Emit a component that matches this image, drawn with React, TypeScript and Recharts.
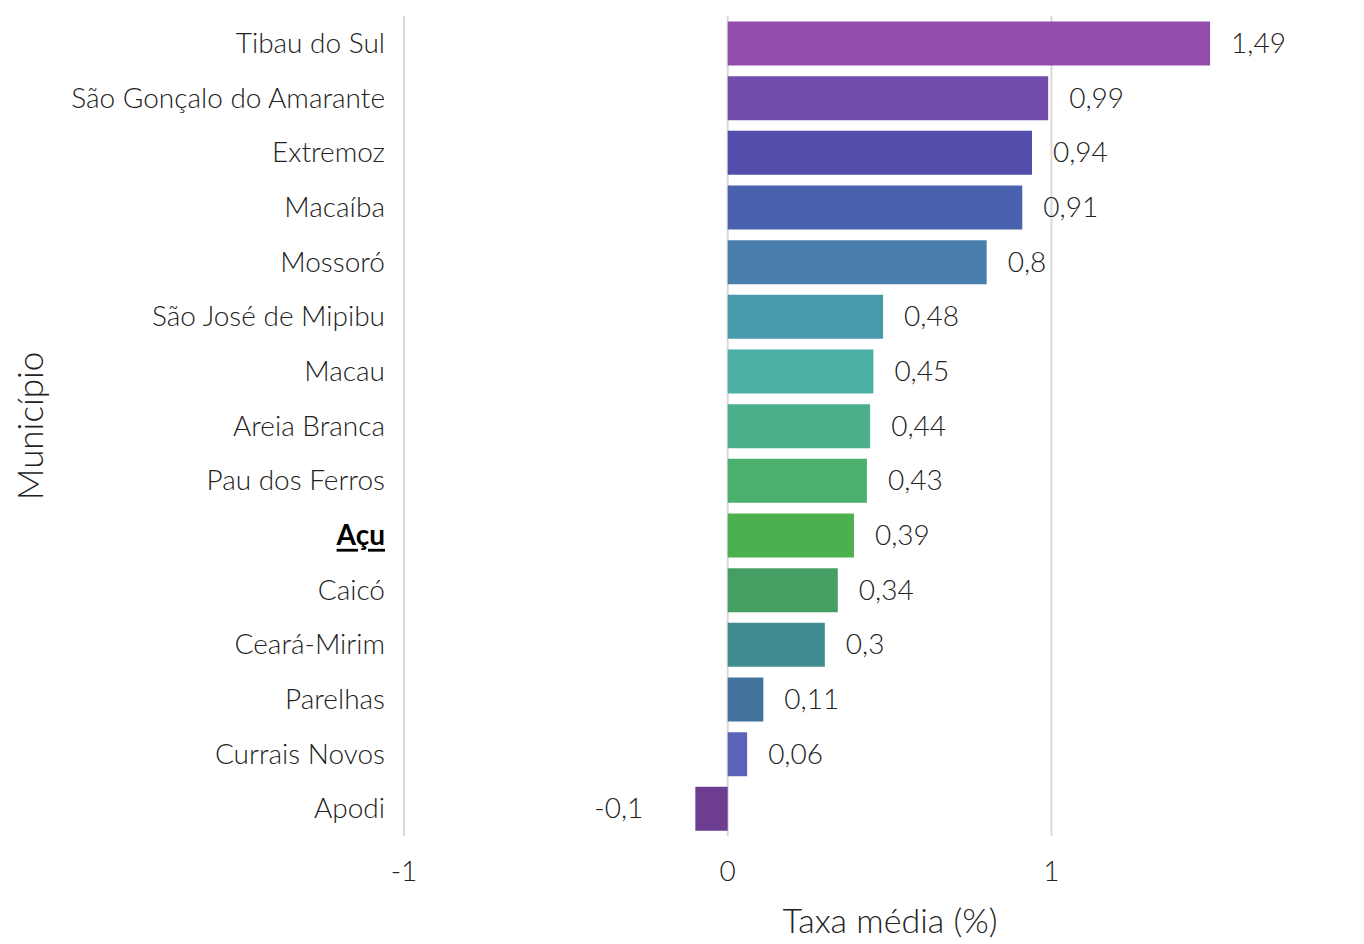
import React from 'react';
import { BarChart, Bar, XAxis, YAxis, CartesianGrid, Cell, LabelList, Label } from 'recharts';

const municipios = [
    'Tibau do Sul',
    'São Gonçalo do Amarante',
    'Extremoz',
    'Macaíba',
    'Mossoró',
    'São José de Mipibu',
    'Macau',
    'Areia Branca',
    'Pau dos Ferros',
    'Açu',
    'Caicó',
    'Ceará-Mirim',
    'Parelhas',
    'Currais Novos',
    'Apodi',
];

const taxas = [1.49, 0.99, 0.94, 0.91, 0.8, 0.48, 0.45, 0.44, 0.43, 0.39, 0.34, 0.3, 0.11, 0.06, -0.1];

const barColors = [
    '#914cac', '#734dac', '#544dac', '#4a62ad', '#4a7ead',
    '#4a9aad', '#4bafa5', '#4bb08a', '#4bb06d', '#4bb04d',
    '#459f63', '#408d91', '#42739f', '#5b63b8', '#6c3d91',
];

const xTicks = [-1, 0, 1];
const highlighted = 'Açu';

const data = municipios.map((m, i) => ({ municipio: m, taxa: taxas[i] }));

const FONT = '"Lato Light", Lato, "Open Sans", sans-serif';
const fmt = (v: number) => String(v).replace('.', ',');

const CategoryTick = (props: any) => {
    const { x, y, payload } = props;
    const isHi = payload.value === highlighted;
    return (
        <text
            x={x}
            y={y - 1.5}
            textAnchor="end"
            dominantBaseline="central"
            fontFamily={isHi ? 'Lato, sans-serif' : FONT}
            fontSize={28}
            fontWeight={isHi ? 700 : 300}
            fill={isHi ? '#000' : '#222'}
            textDecoration={isHi ? 'underline' : undefined}
        >
            {payload.value}
        </text>
    );
};

const ValueLabel = (props: any) => {
    const { x, y, width, height, value } = props;
    const neg = value < 0;
    // for the negative bar x/width can come flipped
    const left = Math.min(x, x + width);
    const right = Math.max(x, x + width);
    return (
        <text
            x={neg ? left - 52 : right + 21}
            y={y + height / 2 - 1.5}
            textAnchor={neg ? 'end' : 'start'}
            dominantBaseline="central"
            fontFamily={FONT}
            fontSize={28}
            fontWeight={300}
            fill="#222"
        >
            {fmt(value)}
        </text>
    );
};

const App = () => {
    return (
        <div style={{ position: 'absolute', left: 0, top: 0, width: 1364, height: 944, overflow: 'hidden', background: '#fff' }}>
            <BarChart
                width={1380}
                height={944}
                data={data}
                layout="vertical"
                margin={{ top: 16, right: 0, bottom: 0, left: 0 }}
                barCategoryGap="10%"
            >
                <CartesianGrid horizontal={false} stroke="#d9d9d9" strokeWidth={2} />
                <XAxis
                    type="number"
                    dataKey="taxa"
                    domain={[-1, 2.015]}
                    ticks={xTicks}
                    allowDataOverflow
                    axisLine={false}
                    tickLine={false}
                    tickSize={0}
                    tickMargin={25}
                    tick={{ fill: '#222', fontSize: 28, fontFamily: FONT, fontWeight: 300 }}
                    height={108}
                >
                    <Label
                        content={() => (
                            <text
                                x={890}
                                y={933}
                                textAnchor="middle"
                                fontFamily={FONT}
                                fontSize={34}
                                fontWeight={300}
                                fill="#222"
                            >
                                Taxa média (%)
                            </text>
                        )}
                    />
                </XAxis>
                <YAxis
                    type="category"
                    dataKey="municipio"
                    width={404}
                    axisLine={false}
                    tickLine={false}
                    tickSize={0}
                    tickMargin={19}
                    interval={0}
                    tick={<CategoryTick />}
                >
                    <Label
                        content={() => (
                            <text
                                x={43}
                                y={426}
                                transform="rotate(-90, 43, 426)"
                                textAnchor="middle"
                                fontFamily={FONT}
                                fontSize={35}
                                fontWeight={300}
                                fill="#222"
                            >
                                Município
                            </text>
                        )}
                    />
                </YAxis>
                <Bar dataKey="taxa" isAnimationActive={false}>
                    {data.map((d, i) => (
                        <Cell key={d.municipio} fill={barColors[i]} />
                    ))}
                    <LabelList dataKey="taxa" content={<ValueLabel />} />
                </Bar>
            </BarChart>
        </div>
    );
};

export default App;
